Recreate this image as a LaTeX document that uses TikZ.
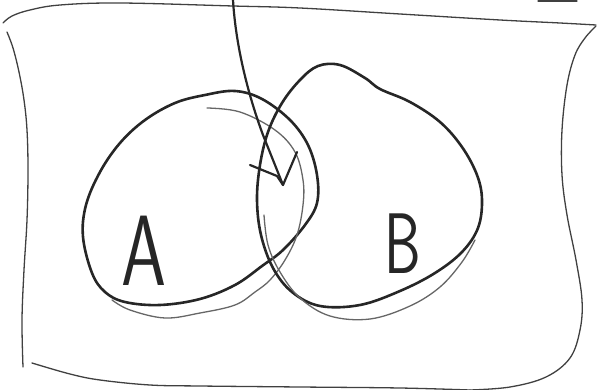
\documentclass[tikz,border=0pt]{standalone}
\begin{document}
\begin{tikzpicture}[x=1pt,y=-1pt,
  boxpen/.style={draw=black!75,line width=1.3pt,line cap=round,line join=round},
  ringpen/.style={draw=black!85,line width=2.6pt,line cap=round,line join=round},
  ghostpen/.style={draw=black!60,line width=1.3pt,line cap=round,line join=round},
  arrowpen/.style={draw=black!85,line width=2.2pt,line cap=round,line join=round},
  letter/.style={inner sep=0pt,anchor=base,font=\sffamily,text=black!85}]
\useasboundingbox (0,0) rectangle (599,390);
% outer box (hand drawn)
\draw[boxpen] plot[smooth,tension=0.6] coordinates {(3,23) (12,16) (30,10) (60,5) (120,3) (233,6) (300,8) (400,14) (500,20) (560,23) (596,25)};
\draw[boxpen] plot[smooth,tension=0.6] coordinates {(596,26) (585,38) (575,55) (567,85) (562,130) (562,175) (567,215) (576,260) (582,300) (580,330) (570,358) (546,377) (510,387) (470,390)};
\draw[boxpen] plot[smooth,tension=0.6] coordinates {(32,363) (70,374) (100,380) (150,385) (200,386) (300,387) (400,388) (470,390)};
\draw[boxpen] plot[smooth,tension=0.6] coordinates {(7,32) (13,48) (19,72) (24,100) (27,130) (28,170) (27,220) (24,270) (22,320) (23,367)};
\draw[boxpen] (538,1) -- (577,1);
% set A
\draw[ringpen] plot[smooth cycle,tension=0.6] coordinates {(83,237) (86,205) (100,172) (120,143) (145,120) (175,103) (205,95) (235,91) (262,99) (290,120) (308,145) (317,175) (317,203) (305,225) (283,250) (262,266) (235,285) (200,299) (160,305) (125,302) (105,292) (92,273)};
\draw[ghostpen] plot[smooth,tension=0.6] coordinates {(207,108) (240,112) (275,130) (295,152) (303,180) (303,205) (297,235) (285,260) (270,280) (255,292) (235,305) (200,313) (165,318) (130,310) (112,300)};
% set B
\draw[ringpen] plot[smooth cycle,tension=0.6] coordinates {(300,80) (318,66) (340,65) (365,78) (380,89) (410,102) (440,122) (462,147) (477,175) (482,200) (478,228) (462,252) (435,273) (400,291) (360,305) (320,306) (292,292) (273,268) (261,235) (257,200) (260,165) (268,132) (282,103)};
\draw[ghostpen] plot[smooth,tension=0.6] coordinates {(264,215) (268,245) (280,272) (300,298) (330,316) (370,319) (410,306) (440,287) (462,262) (475,240)};
% pointer into the intersection
\coordinate (top) at (233,0);
\coordinate (bend) at (263,135);
\coordinate (tip) at (283,185);
\draw[arrowpen] (top) .. controls (236,50) and (250,100) .. (bend) -- (tip);
\draw[arrowpen] (250,165) -- (277,176) -- (tip) -- (297,152);
% labels
\node[letter,font=\sffamily\fontsize{100}{100}\selectfont,xscale=0.72] (la) at (144,285) {A};
\node[letter,font=\sffamily\fontsize{86}{86}\selectfont,xscale=0.68] (lb) at (403,273) {B};
\end{tikzpicture}
\end{document}
